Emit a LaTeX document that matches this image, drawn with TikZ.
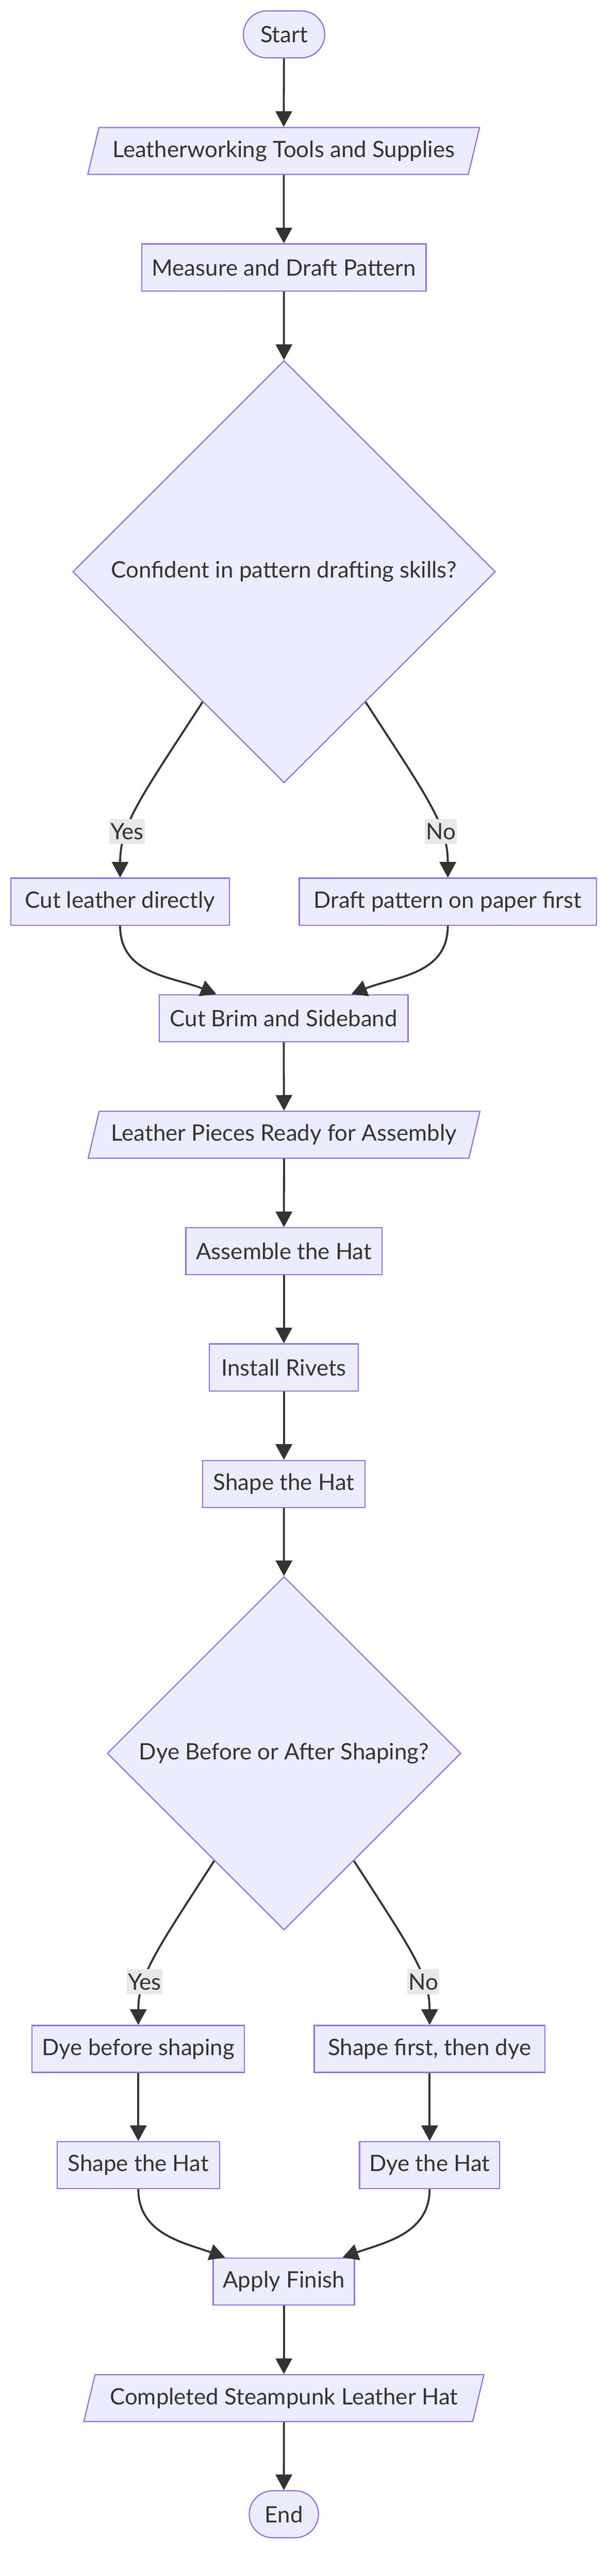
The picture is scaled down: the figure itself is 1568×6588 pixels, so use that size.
\documentclass[tikz,border=0pt]{standalone}
\usepackage{fontspec}
\setmainfont{Lato}
\usetikzlibrary{arrows.meta,shapes.geometric}
\definecolor{boxfill}{HTML}{ECECFF}
\definecolor{boxline}{HTML}{9370DB}
\definecolor{ink}{HTML}{333333}
\definecolor{tagfill}{HTML}{E8E8E8}
% font size taken from the widest text
\newlength\probew
\AtBeginDocument{%
  \settowidth\probew{\fontsize{10}{12}\selectfont Leatherworking Tools and Supplies}%
  \pgfmathsetmacro\fsz{10*875/\probew}%
  \pgfmathsetmacro\fbl{1.2*\fsz}}
\newcommand{\nodefont}{\fontsize{\fsz}{\fbl}\selectfont}
\tikzstyle{process}=[rectangle,draw=boxline,fill=boxfill,line width=3pt,text=ink,minimum height=120pt,inner sep=0pt,font=\nodefont]
\tikzstyle{terminal}=[process,rounded corners=60pt]
\tikzstyle{data}=[process,trapezium,trapezium left angle=63.43,trapezium right angle=116.57,trapezium stretches=true]
\tikzstyle{decision}=[process,diamond,aspect=1]
\tikzstyle{flow}=[draw=ink,line width=5pt,-{Triangle[length=40pt,width=42pt]}]
\tikzstyle{answer}=[fill=tagfill,text=ink,font=\nodefont,inner xsep=3pt,inner ysep=0pt,minimum height=64pt]

\begin{document}
\begin{tikzpicture}[x=1pt,y=-1pt]
    \useasboundingbox (0,0) rectangle (1568,6588);

    % First the start and end
    \node[terminal,minimum width=208pt] (start) at (726,88) {Start};
    \node[terminal,minimum width=177pt] (end) at (725.5,6430) {End};

    % the material boxes
    \foreach \x/\y/\name/\boxw/\txt in {725/386/tools/1010/Leatherworking Tools and Supplies,726/2902/pieces/1016/Leather Pieces Ready for Assembly,725.5/6133/completed/1031/Completed Steampunk Leather Hat}
        \node[data,minimum width=\boxw pt] (\name) at (\x,\y) {\txt};

    % the steps
    \foreach \x/\y/\name/\boxw/\txt in {725.5/684/measure/727/Measure and Draft Pattern,%
307/2306/cutdirect/558/Cut leather directly,%
1144.5/2306/draftpaper/759/Draft pattern on paper first,%
725/2604/brim/636/Cut Brim and Sideband,%
725.5/3200/assemble/501/Assemble the Hat,%
725.5/3497/rivets/381/Install Rivets,%
725.5/3795/shape/415/Shape the Hat,%
353.5/5240/dyebefore/543/Dye before shaping,%
1098/5240/shapefirst/590/{Shape first, then dye},%
353.5/5537/shapehat/415/Shape the Hat,%
1098/5537/dyehat/358/Dye the Hat,%
725.5/5835/finish/361/Apply Finish}
        \node[process,minimum width=\boxw pt] (\name) at (\x,\y) {\txt};

    % the two questions
    \node[decision,minimum size=1080pt] (conf) at (726,1462) {\makebox[0pt]{Confident in pattern drafting skills?}};
    \node[decision,minimum size=904pt] (dye) at (726,4484) {\makebox[0pt]{Dye Before or After Shaping?}};

    % Connect the boxes
    \foreach \source/\dest in {start/tools,tools/measure,measure/conf,brim/pieces,pieces/assemble,assemble/rivets,rivets/shape,shape/dye,dyebefore/shapehat,shapefirst/dyehat,finish/completed,completed/end}
        \path[flow] (\source) -- (\dest);

    % answers of the questions
    \path[flow] (conf.238) .. controls +(-158,244) and +(0,-136) .. node[answer,pos=0.68] (yes1) {Yes} (cutdirect.north);
    \path[flow] (conf.302) .. controls +(158,244) and +(0,-136) .. node[answer,pos=0.68] (no1) {No} (draftpaper.north);
    \path[flow] (dye.237) .. controls +(-147,228) and +(0,-127) .. node[answer,pos=0.68] (yes2) {Yes} (dyebefore.north);
    \path[flow] (dye.303) .. controls +(147,228) and +(0,-127) .. node[answer,pos=0.68] (no2) {No} (shapefirst.north);

    % paths joining again
    \path[flow] (cutdirect.south) .. controls +(0,125) and +(-115,-46) .. ([xshift=-172pt]brim.north);
    \path[flow] (draftpaper.south) .. controls +(0,125) and +(115,-46) .. ([xshift=173pt]brim.north);
    \path[flow] (shapehat.south) .. controls +(0,115) and +(-105,-38) .. ([xshift=-150pt]finish.north);
    \path[flow] (dyehat.south) .. controls +(0,115) and +(105,-38) .. ([xshift=150pt]finish.north);
\end{tikzpicture}
\end{document}
